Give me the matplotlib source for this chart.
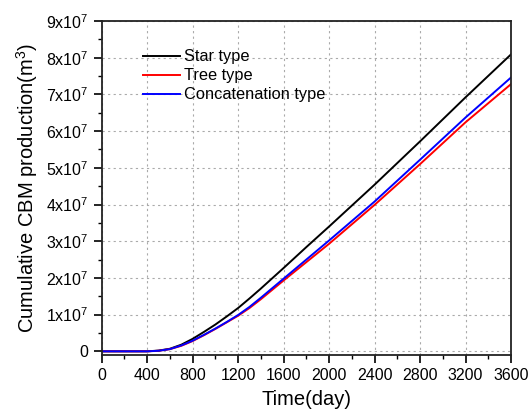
import matplotlib
matplotlib.use("Agg")
import matplotlib.pyplot as plt
from matplotlib.ticker import MultipleLocator, FuncFormatter

plt.rcParams['font.family'] = ['Liberation Sans', 'DejaVu Sans']
plt.rcParams['mathtext.fontset'] = 'custom'
plt.rcParams['mathtext.rm'] = 'Liberation Sans'
plt.rcParams['mathtext.it'] = 'Liberation Sans:italic'

time_days = [0, 200, 400, 500, 600, 700, 800, 900, 1000, 1100, 1200, 1300, 1400, 1600, 1800, 2000, 2200, 2400, 2800, 3200, 3600]
star = [0, 0, 0, 0.02, 0.07, 0.18, 0.34, 0.53, 0.73, 0.95, 1.18, 1.44, 1.71, 2.27, 2.84, 3.40, 3.97, 4.54, 5.72, 6.92, 8.09]
tree = [0, 0, 0, 0.015, 0.06, 0.15, 0.28, 0.44, 0.61, 0.79, 0.97, 1.18, 1.42, 1.93, 2.43, 2.93, 3.46, 3.99, 5.10, 6.24, 7.28]
concat = [0, 0, 0, 0.015, 0.06, 0.16, 0.29, 0.45, 0.62, 0.80, 0.99, 1.21, 1.46, 1.98, 2.50, 3.02, 3.55, 4.08, 5.22, 6.37, 7.46]
scale = 1e7

series_labels = ["Star type", "Tree type", "Concatenation type"]
series_colors = ["black", "red", "blue"]

fig = plt.figure(figsize=(5.31, 4.17), dpi=100)
ax = fig.add_axes([0.1915, 0.1487, 0.7708, 0.8009])

for vals, lab, col in zip([star, tree, concat], series_labels, series_colors):
    ax.plot(time_days, [v * scale for v in vals], color=col, lw=1.4, label=lab)

ax.set_xlim(0, 3600)
ax.set_ylim(-1e6, 9e7)
ax.xaxis.set_major_locator(MultipleLocator(400))
ax.xaxis.set_minor_locator(MultipleLocator(200))
ax.yaxis.set_major_locator(MultipleLocator(1e7))
ax.yaxis.set_minor_locator(MultipleLocator(5e6))

def yfmt(v, pos):
    n = int(round(v / 1e7))
    if n == 0:
        return "0"
    return r"%dx10$^{7}$" % n
ax.yaxis.set_major_formatter(FuncFormatter(yfmt))

ax.tick_params(axis='both', which='major', direction='out', length=6, width=1.2, labelsize=11.5, colors='black')
ax.tick_params(axis='both', which='minor', direction='out', length=3, width=1.0)
ax.tick_params(top=False, right=False, which='both')

ax.grid(True, which='major', color='#aaaaaa', linestyle=(0, (2, 3)), linewidth=0.8)
for s in ax.spines.values():
    s.set_linewidth(1.3)
    s.set_color('#222222')

ax.set_xlabel("Time(day)", fontsize=14.5, labelpad=5)
ax.set_ylabel(r"Cumulative CBM production(m$^{3}$)", fontsize=14.5, labelpad=4)

leg = ax.legend(loc='upper left', bbox_to_anchor=(0.085, 0.935), frameon=False, fontsize=11.75,
                handlelength=2.27, handletextpad=0.25, labelspacing=0.25, borderaxespad=0)

fig.savefig("out.png", dpi=100)
